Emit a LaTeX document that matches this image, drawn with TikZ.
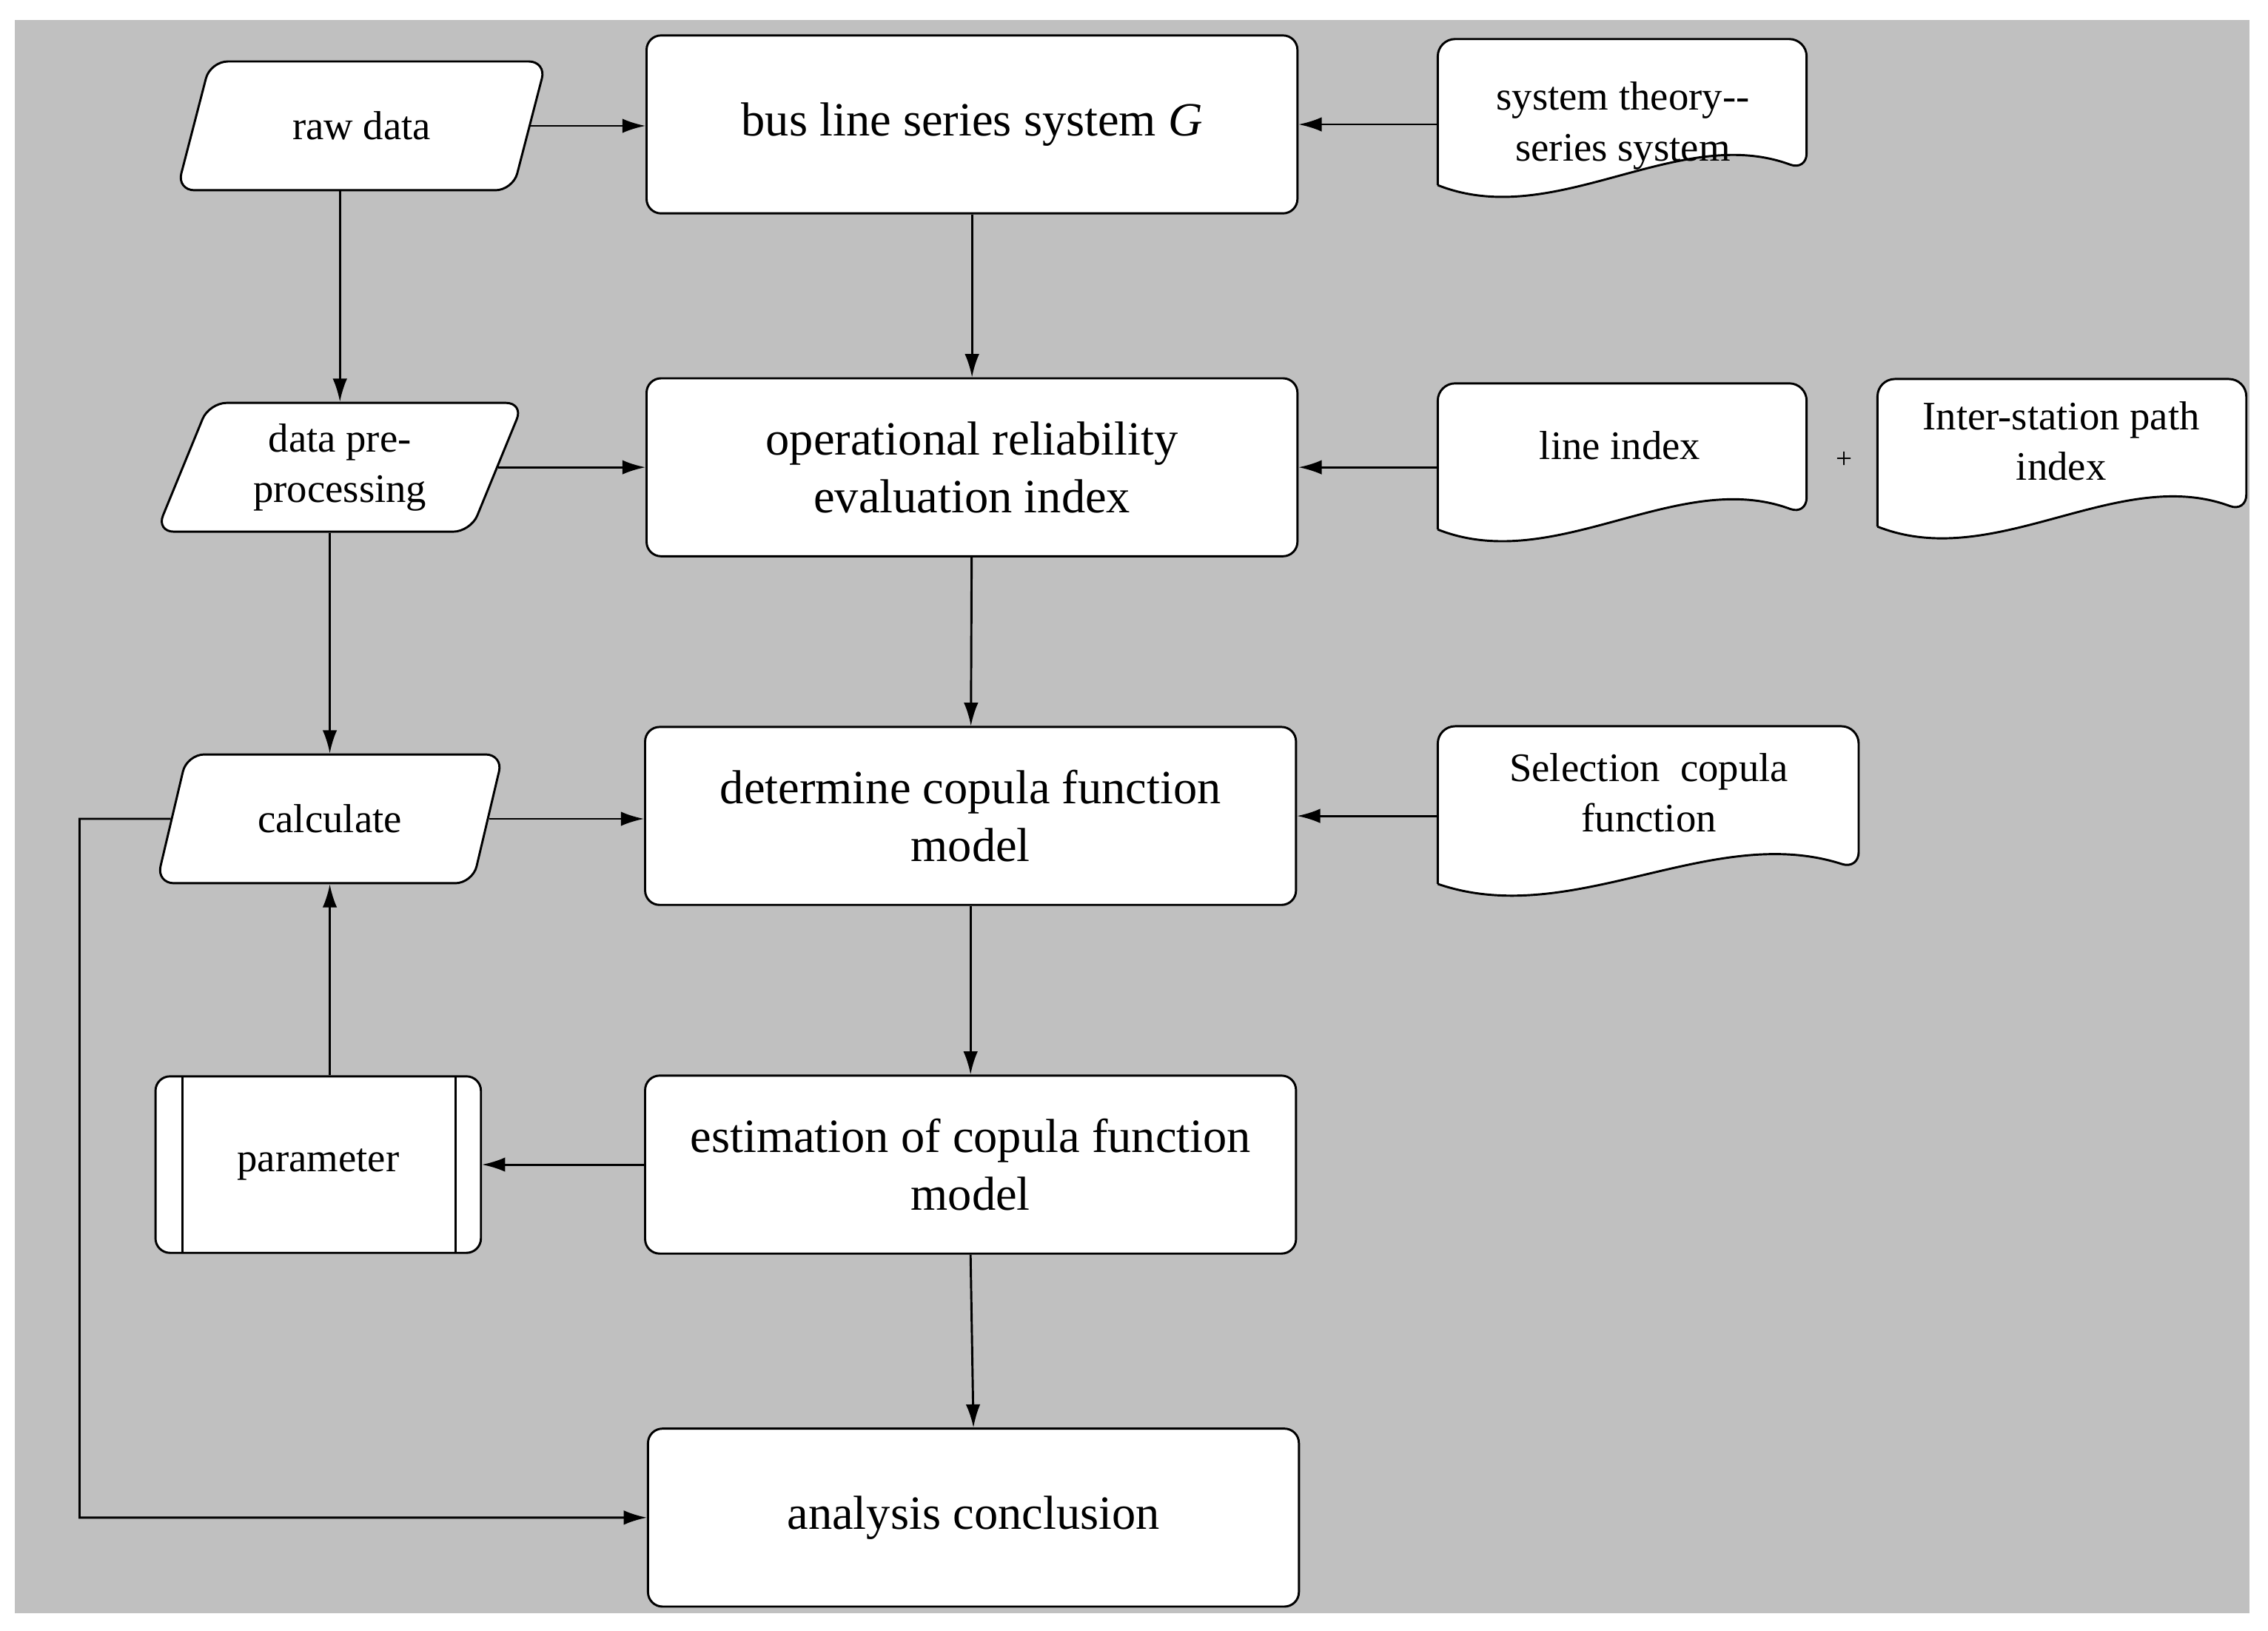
\documentclass[tikz,border=0pt]{standalone}
\usepackage{fontspec}
\setmainfont{Liberation Serif}
\usetikzlibrary{shapes.geometric,arrows.meta}
\begin{document}
\begin{tikzpicture}[x=0.5pt,y=-0.5pt,line width=0.75pt,
 box/.style={draw,fill=white,rounded corners=5pt,minimum width=225pt,minimum height=61.5pt,align=center,font=\fontsize{16.5}{20}\selectfont},
 para/.style={draw,fill=white,trapezium,trapezium left angle=70,trapezium right angle=110,trapezium stretches=true,rounded corners=6pt,minimum height=44.5pt,align=center,font=\fontsize{14}{17.5}\selectfont},
 doc/.style={draw,fill=white,rounded corners=6pt},
 dtext/.style={align=center,font=\fontsize{14}{17.5}\selectfont},
 arr/.style={-{Latex[length=8pt,width=5pt]}}]
\useasboundingbox (0,0) rectangle (1568,1127);
\fill[fill={rgb,255:red,192;green,192;blue,192}] (10,14) rectangle (1555,1115);
% boxes
\node[box] (bus) at (672,86) {bus line series system \textit{G}};
\node[box] (ore) at (672,323) {operational reliability\\evaluation index};
\node[box] (det) at (671,564) {determine copula function\\model};
\node[box] (est) at (671,805) {estimation of copula function\\model};
\node[box] (ana) at (673,1049) {analysis conclusion};
% parallelograms
\node[para,minimum width=128pt] (raw) at (250,87) {raw data};
\node[para,minimum width=127pt] (pre) at (235,323) {data pre-\\processing};
\node[para,minimum width=120pt] (calc) at (228,566) {calculate};
% parameter
\node[draw,fill=white,rounded corners=5pt,minimum width=112.5pt,minimum height=61pt,font=\fontsize{14}{17.5}\selectfont] (param) at (220,805) {parameter};
\draw (126,744) -- (126,866) (315,744) -- (315,866);
% documents
\draw[doc] (994,128) -- (994,27) -- (1249,27) -- (1249,118) [sharp corners] .. controls (1160,85) and (1075,160) .. (994,128);
\draw[doc] (994,366) -- (994,265) -- (1249,265) -- (1249,356) [sharp corners] .. controls (1160,323) and (1075,398) .. (994,366);
\draw[doc] (1298,364) -- (1298,262) -- (1553,262) -- (1553,354) [sharp corners] .. controls (1464,321) and (1379,396) .. (1298,364);
\draw[doc] (994,611) -- (994,502) -- (1285,502) -- (1285,601) [sharp corners] .. controls (1183,568) and (1087,643) .. (994,611);
\node[dtext] (st) at (1122,87) {system theory-{}-\\series system};
\node[dtext] (li) at (1120,308) {line index};
\node[dtext] (is) at (1425,305) {Inter-station path\\index};
\node[dtext] (sel) at (1140,548) {Selection\ \ copula\\function};
\node[font=\fontsize{10}{12}\selectfont] (plus) at (1275,318) {+};
\coordinate (stw) at (994,86);
\coordinate (liw) at (994,323);
\coordinate (selw) at (994,564);
\coordinate (corner) at (55,566);
% connectors
\draw[arr] (raw.east) -- (bus.west |- raw.east);
\draw[arr] (stw) -- (bus.east |- stw);
\draw[arr] (bus) -- (ore);
\draw[arr] (pre.north |- raw.south) -- (pre.north);
\draw[arr] (pre.east) -- (ore.west |- pre.east);
\draw[arr] (liw) -- (ore.east |- liw);
\draw[arr] (ore) -- (det);
\draw[arr] (calc.north |- pre.south) -- (calc.north);
\draw[arr] (calc.east) -- (det.west |- calc.east);
\draw[arr] (selw) -- (det.east |- selw);
\draw[arr] (det) -- (est);
\draw[arr] (est.west) -- (param.east);
\draw[arr] (param.north -| calc.south) -- (calc.south);
\draw[arr] (est.south) -- (ana.north);
\draw[arr] (calc.west) -- (corner) |- (ana.west);
\end{tikzpicture}
\end{document}
